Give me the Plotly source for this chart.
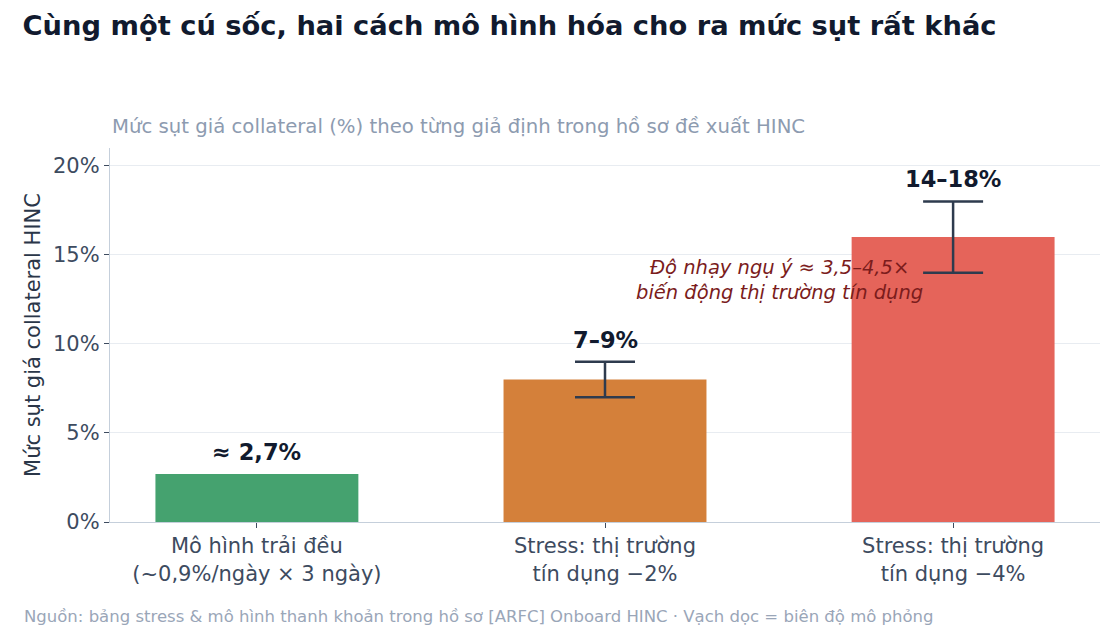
import plotly.graph_objects as go

# Du lieu doc tu bieu do
kich_ban = ["Mô hình trải đều<br>(~0,9%/ngày × 3 ngày)",
            "Stress: thị trường<br>tín dụng −2%",
            "Stress: thị trường<br>tín dụng −4%"]
muc_sut = [2.7, 8.0, 16.0]
sai_so = [0.0, 1.0, 2.0]
nhan = ["≈ 2,7%", "7–9%", "14–18%"]
mau = ["#45a26f", "#d4803a", "#e5645a"]

FONT = "DejaVu Sans"

fig = go.Figure()
# cot dau khong co thanh sai so
fig.add_trace(go.Bar(
    x=kich_ban[:1], y=muc_sut[:1],
    marker=dict(color=mau[:1], line=dict(width=0)),
    width=0.583, hoverinfo="skip",
))
fig.add_trace(go.Bar(
    x=kich_ban[1:], y=muc_sut[1:],
    marker=dict(color=mau[1:], line=dict(width=0)),
    width=0.583,
    error_y=dict(type="data", array=sai_so[1:], visible=True,
                 color="#2e3b4e", thickness=2.5, width=30),
    hoverinfo="skip",
))

# nhan tren dinh thanh sai so
for xi, yi, ei, t in zip(kich_ban, muc_sut, sai_so, nhan):
    fig.add_annotation(x=xi, y=yi + ei, text="<b>" + t + "</b>", showarrow=False,
                       yanchor="bottom", yshift=7,
                       font=dict(family=FONT, size=22.5, color="#111a2e"))

fig.add_annotation(x=1.5, y=13.6, xref="x", yref="y",
                   text="<i>Độ nhạy ngụ ý ≈ 3,5–4,5×<br>biến động thị trường tín dụng</i>",
                   showarrow=False, align="center",
                   font=dict(family=FONT, size=19.5, color="#7b1c1c"))

# trang html co le 8px, nen le cua hinh duoc bu lai
fig.update_layout(
    width=1120, height=628,
    margin=dict(l=102, r=28, t=140, b=114),
    paper_bgcolor="white", plot_bgcolor="white",
    font=dict(family=FONT, color="#3d4b5f"),
    showlegend=False,
    barmode="overlay",
    title=dict(text="<b>Cùng một cú sốc, hai cách mô hình hóa cho ra mức sụt rất khác</b>",
               x=0.013, xanchor="left", xref="container", y=0.972, yanchor="middle",
               font=dict(family=FONT, size=27.3, color="#111a2e")),
    xaxis=dict(range=[-0.422, 2.422],
               showline=True, linecolor="#c5cfdb", linewidth=1.2, automargin=False,
               ticks="outside", tickcolor="#3d4b5f", ticklen=5,
               tickfont=dict(size=21, color="#3d4b5f")),
    yaxis=dict(range=[0, 21], tickvals=[0, 5, 10, 15, 20],
               ticktext=["0%", "5%", "10%", "15%", "20%"],
               showline=True, linecolor="#c5cfdb", linewidth=1.2, automargin=False,
               ticks="outside", tickcolor="#3d4b5f", ticklen=5,
               gridcolor="#e8ecf1", zeroline=False,
               tickfont=dict(size=21, color="#3d4b5f"),
               title=dict(text="Mức sụt giá collateral HINC",
                          font=dict(size=21, color="#2a3648"), standoff=6)),
)

fig.add_annotation(xref="paper", yref="paper", x=0, y=1.021, xanchor="left", yanchor="bottom",
                   text="Mức sụt giá collateral (%) theo từng giả định trong hồ sơ đề xuất HINC",
                   showarrow=False, font=dict(family=FONT, size=19.7, color="#8d9bb0"))
fig.add_annotation(xref="paper", yref="paper", x=-0.0889, y=-0.254, xanchor="left", yanchor="middle",
                   text="Nguồn: bảng stress & mô hình thanh khoản trong hồ sơ [ARFC] Onboard HINC · Vạch dọc = biên độ mô phỏng",
                   showarrow=False, font=dict(family=FONT, size=16.5, color="#9aa6b8"))

fig.write_html("out.html")
